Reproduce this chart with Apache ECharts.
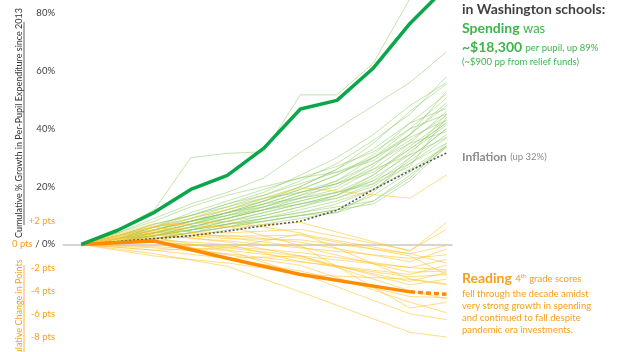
<!DOCTYPE html>
<html>
<head>
<meta charset="utf-8">
<script src="https://cdn.jsdelivr.net/npm/echarts@6/dist/echarts.min.js"></script>
<style>
html, body { margin: 0; padding: 0; background: #fff; }
#chart { width: 621px; height: 352px; }
</style>
</head>
<body>
<div id="chart"></div>
<script>
// x positions (fiscal years) for spending, and the NAEP reading years
const years = [2013, 2014, 2015, 2016, 2017, 2018, 2019, 2020, 2021, 2022, 2023];
const readingYears = [2013, 2015, 2017, 2019, 2022, 2023];

// Washington
const waSpending = [0, 4.9, 11.1, 19, 23.9, 33.3, 46.8, 49.8, 61, 76.4, 89];
const inflation = [0, 1, 2, 3, 4.6, 6.5, 8, 11.8, 19, 25.5, 31.6];
const waReading = [0, 0.3, -1.2, -2.6, -4.1];
const waReadingLatest = [-4.1, -4.3];
const waReadingLatestYears = [2022, 2023];

// other states, % growth in per-pupil spending
const stateSpending = [
    [0, 5, 12, 30, 31.5, 32, 51.7, 51.7, 62.7, 85, 100],
    [0, 4, 9, 14, 18, 23, 31.8, 40, 48, 56, 66.6],
    [0, 3, 7, 10, 14, 18, 24, 30, 38, 48, 56],
    [0, 2, 5, 8, 12, 16, 20, 26, 35, 46, 55.5],
    [0, 3, 6, 9, 12, 15, 19, 24, 31, 42, 52],
    [0, 2, 4, 7, 10, 14, 18, 22, 30, 40, 50.6],
    [0, 1, 3, 6, 9, 13, 17, 20, 27, 38, 49],
    [0, 2, 5, 9, 13, 17, 21, 25, 29, 38, 48],
    [0, 1, 4, 7, 11, 14, 16, 19, 26, 35, 46],
    [0, 3, 7, 10, 13, 16, 18, 21, 28, 36, 44.6],
    [0, 2, 5, 8, 11, 13, 16, 18, 24, 34, 43],
    [0, 1, 3, 5, 8, 11, 14, 17, 24, 33, 42],
    [0, 2, 4, 6, 9, 12, 15, 18, 22, 32, 41.3],
    [0, 1, 2, 4, 7, 10, 13, 16, 21, 30, 40],
    [0, 2, 5, 8, 10, 12, 14, 16, 20, 29, 38],
    [0, 1, 3, 5, 7, 9, 12, 15, 19, 28, 36.8],
    [0, 0.5, 2, 4, 6, 8, 10, 12, 17, 25, 34],
    [0, 1, 2, 3, 5, 7, 9, 11, 15, 24, 33.5],
    [0, 3, 6, 8, 11, 15, 20, 26, 33, 42, 47],
    [0, 2, 6, 11, 15, 19, 23, 27, 32, 40, 45],
    [0, 1, 4, 8, 11, 15, 19, 24, 30, 37, 43],
    [0, 2, 4, 7, 10, 13, 17, 22, 28, 35, 39],
    [0, 1, 3, 6, 9, 12, 16, 21, 26, 31, 37],
    [0, 4, 8, 13, 17, 20, 23, 25, 30, 38, 53],
    [0, 2, 6, 10, 14, 17, 22, 28, 36, 45, 58],
    [0, 1, 3, 6, 8, 11, 14, 17, 22, 28, 35],
    [0, 2, 3, 5, 8, 10, 13, 17, 23, 31, 45],
    [0, 1, 4, 7, 9, 12, 15, 18, 21, 27, 44],
    [0, 3, 5, 8, 11, 14, 18, 21, 25, 33, 42],
    [0, 2, 3, 5, 7, 9, 11, 14, 19, 26, 34],
    [0, 1, 2, 4, 6, 9, 11, 13, 15, 23, 35],
    [0, 2, 4, 5, 7, 8, 10, 12, 14, 22, 34],
    [0, 1, 3, 4, 6, 8, 10, 11, 18, 30, 40]
];

// other states, change in 4th grade reading points
const stateReading = [
    [0, 1.5, 3, 4.9, 4, 6],
    [0, 1.8, 1.5, 1.9, -0.6, 1.9],
    [0, 1.2, 1, 1.3, -0.5, 1.3],
    [0, 1, 0.5, 0.4, -0.8, -0.1],
    [0, 0.5, 0.8, 0.2, -1.5, -0.4],
    [0, 0.8, 0.3, -0.3, -1.2, -0.9],
    [0, 0.2, -0.2, -0.7, -2, -1.3],
    [0, 1.5, 0.6, -0.2, -2.4, -2.3],
    [0, -0.3, -0.8, -1.5, -2.8, -2.6],
    [0, 0.6, -0.5, -1.2, -3.2, -2.4],
    [0, -0.5, -1.2, -2.3, -4.5, -4.6],
    [0, 0.3, -0.9, -1.8, -5, -5.9],
    [0, -0.8, -1.9, -4.1, -7.6, -8],
    [0, 0.9, 0.2, -1, -3.5, -3],
    [0, 1.1, 0.7, 0.8, -1, -2.6],
    [0, -0.2, -0.5, -2.6, -3, -3.4],
    [0, 0.4, 0, -1.5, -2.6, -1.8],
    [0, 1.3, 1.6, -0.1, -5.5, -5],
    [0, 0.7, -1.2, -1, -4, -4.7],
    [0, -1, -1.6, -2.5, -6, -6.5],
    [0, 0.2, -0.3, 0.9, -0.8, -1.6],
    [0, -0.5, -0.3, -1, -2, -2.2],
    [0, 1.6, 2, 1, -3, -3.5]
];

const spendTicks = [0, 20, 40, 60, 80];
const pointTicks = [2, -2, -4, -6, -8];

const GREEN = '#0aa64a';
const LIGHT_GREEN = '#8cc95c';
const ORANGE = '#ff8c00';
const LIGHT_ORANGE = '#ffc733';
const TEXT_GREEN = '#3db54a';
const TEXT_ORANGE = '#f7a01c';
const FONT = 'Lato, "Open Sans", sans-serif';

const pair = (xs, ys) => xs.map((x, i) => [x, ys[i]]);

const thinLine = (xs, ys, color, opacity, axis) => ({
    type: 'line',
    yAxisIndex: axis,
    data: pair(xs, ys),
    symbol: 'none',
    silent: true,
    clip: false,
    lineStyle: { color: color, width: 1, opacity: opacity }
});

const series = [];
stateSpending.forEach((s) => series.push(thinLine(years, s, LIGHT_GREEN, 0.5, 0)));
stateReading.forEach((s) => series.push(thinLine(readingYears, s, LIGHT_ORANGE, 0.6, 1)));

series.push({
    type: 'line',
    yAxisIndex: 0,
    data: pair(years, inflation),
    symbol: 'none',
    clip: false,
    lineStyle: { color: '#555', width: 1.6, type: [2, 2] }
});
series.push({
    type: 'line',
    yAxisIndex: 1,
    data: pair(readingYears.slice(0, 5), waReading),
    symbol: 'none',
    clip: false,
    lineStyle: { color: ORANGE, width: 3.5 }
});
series.push({
    type: 'line',
    yAxisIndex: 1,
    data: pair(waReadingLatestYears, waReadingLatest),
    symbol: 'none',
    clip: false,
    lineStyle: { color: ORANGE, width: 3.5, type: [5, 3] }
});
series.push({
    type: 'line',
    yAxisIndex: 0,
    data: pair(years, waSpending),
    symbol: 'none',
    clip: false,
    lineStyle: { color: GREEN, width: 3.5 }
});

const hiddenAxisBits = {
    axisLine: { show: false },
    axisTick: { show: false },
    splitLine: { show: false }
};

const chart = echarts.init(document.getElementById('chart'));

chart.setOption({
    animation: false,
    backgroundColor: '#fff',
    grid: { left: 63, right: 169, top: 13, bottom: 15 },
    xAxis: {
        type: 'value',
        min: 2012.5,
        max: 2023.15,
        axisLine: { onZero: true, lineStyle: { color: '#c8c8c8', width: 1.5 } },
        axisTick: { show: false },
        axisLabel: { show: false },
        splitLine: { show: false }
    },
    yAxis: [
        {
            type: 'value',
            min: -32,
            max: 80,
            interval: 4,
            position: 'left',
            ...hiddenAxisBits,
            axisLabel: {
                margin: 8,
                fontSize: 9.5,
                fontFamily: FONT,
                color: '#404040',
                formatter: (v) => {
                    if (v === 0) return '{o|0 pts} / 0%';
                    return spendTicks.includes(v) ? v + '%' : '';
                },
                rich: { o: { color: TEXT_ORANGE, fontSize: 9.5, fontFamily: FONT } }
            }
        },
        {
            type: 'value',
            min: -8,
            max: 20,
            interval: 1,
            position: 'left',
            ...hiddenAxisBits,
            axisLabel: {
                margin: 8,
                fontSize: 9.5,
                fontFamily: FONT,
                color: TEXT_ORANGE,
                formatter: (v) => (pointTicks.includes(v) ? (v > 0 ? '+' : '') + v + ' pts' : '')
            }
        }
    ],
    series: series,
    graphic: [
        // axis titles
        {
            type: 'text',
            x: 19,
            y: 123,
            rotation: Math.PI / 2,
            style: {
                text: 'Cumulative % Growth in Per-Pupil Expenditure since 2013',
                fontSize: 9,
                fontFamily: FONT,
                fill: '#333',
                align: 'center',
                verticalAlign: 'middle'
            }
        },
        { type: 'line', shape: { x1: 24, y1: 22, x2: 24, y2: 225 }, style: { stroke: '#333', lineWidth: 0.8 } },
        {
            type: 'text',
            x: 19,
            y: 316,
            rotation: Math.PI / 2,
            style: {
                text: 'Cumulative Change in Points',
                fontSize: 9,
                fontFamily: FONT,
                fill: TEXT_ORANGE,
                align: 'center',
                verticalAlign: 'middle'
            }
        },
        { type: 'line', shape: { x1: 24, y1: 265, x2: 24, y2: 352 }, style: { stroke: TEXT_ORANGE, lineWidth: 0.8 } },

        // right-hand notes
        {
            type: 'text',
            x: 462,
            y: 9,
            style: {
                text: 'in Washington schools:',
                fontSize: 14,
                fontWeight: 'bold',
                fontFamily: FONT,
                fill: '#404040',
                verticalAlign: 'middle'
            }
        },
        {
            type: 'text',
            x: 462,
            y: 28,
            style: {
                text: '{b|Spending} {n|was}',
                verticalAlign: 'middle',
                rich: {
                    b: { fontSize: 14, fontWeight: 'bold', fontFamily: FONT, fill: TEXT_GREEN, verticalAlign: 'bottom' },
                    n: { fontSize: 13, fontFamily: FONT, fill: TEXT_GREEN, verticalAlign: 'bottom' }
                }
            }
        },
        {
            type: 'text',
            x: 462,
            y: 47,
            style: {
                text: '{b|~$18,300} {n|per pupil, up 89%}',
                verticalAlign: 'middle',
                rich: {
                    b: { fontSize: 14, fontWeight: 'bold', fontFamily: FONT, fill: TEXT_GREEN, verticalAlign: 'bottom' },
                    n: { fontSize: 9.5, fontFamily: FONT, fill: TEXT_GREEN, verticalAlign: 'bottom', padding: [0, 0, 1, 0] }
                }
            }
        },
        {
            type: 'text',
            x: 462,
            y: 62,
            style: {
                text: '(~$900 pp from relief funds)',
                fontSize: 9.5,
                fontFamily: FONT,
                fill: TEXT_GREEN,
                verticalAlign: 'middle'
            }
        },
        {
            type: 'text',
            x: 462,
            y: 157,
            style: {
                text: '{b|Inflation} {n|(up 32%)}',
                verticalAlign: 'middle',
                rich: {
                    b: { fontSize: 12, fontWeight: 'bold', fontFamily: FONT, fill: '#8a8a8a', verticalAlign: 'bottom' },
                    n: { fontSize: 9.5, fontFamily: FONT, fill: '#8a8a8a', verticalAlign: 'bottom', padding: [0, 0, 1, 0] }
                }
            }
        },
        {
            type: 'text',
            x: 462,
            y: 278,
            style: {
                text: '{b|Reading} {n|4}{s|th}{n| grade scores}',
                verticalAlign: 'middle',
                rich: {
                    b: { fontSize: 14, fontWeight: 'bold', fontFamily: FONT, fill: TEXT_ORANGE, verticalAlign: 'bottom' },
                    n: { fontSize: 9.5, fontFamily: FONT, fill: TEXT_ORANGE, verticalAlign: 'bottom', padding: [0, 0, 1, 0] },
                    s: { fontSize: 6.5, fontFamily: FONT, fill: TEXT_ORANGE, verticalAlign: 'bottom', padding: [0, 0, 6, 0] }
                }
            }
        },
        {
            type: 'text',
            x: 462,
            y: 288,
            style: {
                text: 'fell through the decade amidst\nvery strong growth in spending\nand continued to fall despite\npandemic era investments.',
                fontSize: 9.5,
                lineHeight: 12,
                fontFamily: FONT,
                fill: TEXT_ORANGE,
                verticalAlign: 'top'
            }
        }
    ]
});
</script>
</body>
</html>
